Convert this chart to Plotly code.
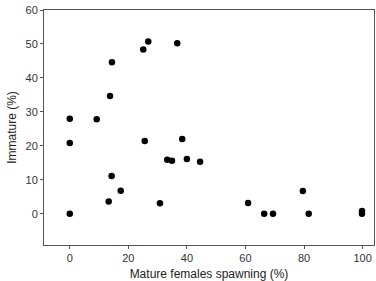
import plotly.graph_objects as go

spawning = [0, 9.2, 13.75, 14.4, 25.1, 26.8, 36.7, 0, 14.3, 17.4, 13.3, 0, 30.8, 25.6,
            33.3, 34.9, 38.4, 40.0, 44.5, 60.9, 66.4, 69.4, 79.6, 81.6, 99.8, 99.8]
immature = [28, 27.8, 34.7, 44.6, 48.4, 50.7, 50.2, 20.8, 11.1, 6.8, 3.6, 0, 3.1, 21.4,
            15.9, 15.6, 22.0, 16.1, 15.3, 3.2, 0, 0, 6.7, 0, 0.8, 0]

x_ticks = [0, 20, 40, 60, 80, 100]
y_ticks = [0, 10, 20, 30, 40, 50, 60]

fig = go.Figure(go.Scatter(
    x=spawning, y=immature, mode="markers",
    marker=dict(color="black", size=6.5, line=dict(width=0)),
))

axis_common = dict(
    showgrid=False, zeroline=False, showline=True, linecolor="#555555", linewidth=1,
    mirror=True, ticks="outside", ticklen=3, tickcolor="#555555", automargin=False,
    tickfont=dict(family="Liberation Sans, Arial", size=11, color="#333333"),
    title_font=dict(family="Liberation Sans, Arial", size=12, color="#222222"),
)

fig.update_layout(
    width=376, height=281,
    margin=dict(l=44, r=2, t=10, b=36),
    paper_bgcolor="white", plot_bgcolor="white",
    showlegend=False,
    xaxis=dict(range=[-8.8, 103.9], tickvals=x_ticks, title=dict(text="Mature females spawning (%)", standoff=8), **axis_common),
    yaxis=dict(range=[-9.2, 60], tickvals=y_ticks, title=dict(text="Immature (%)", standoff=6), **axis_common),
)

fig.write_html("out.html", config={"displayModeBar": False},
               post_script="document.body.style.margin='0';document.body.style.overflow='hidden';")
